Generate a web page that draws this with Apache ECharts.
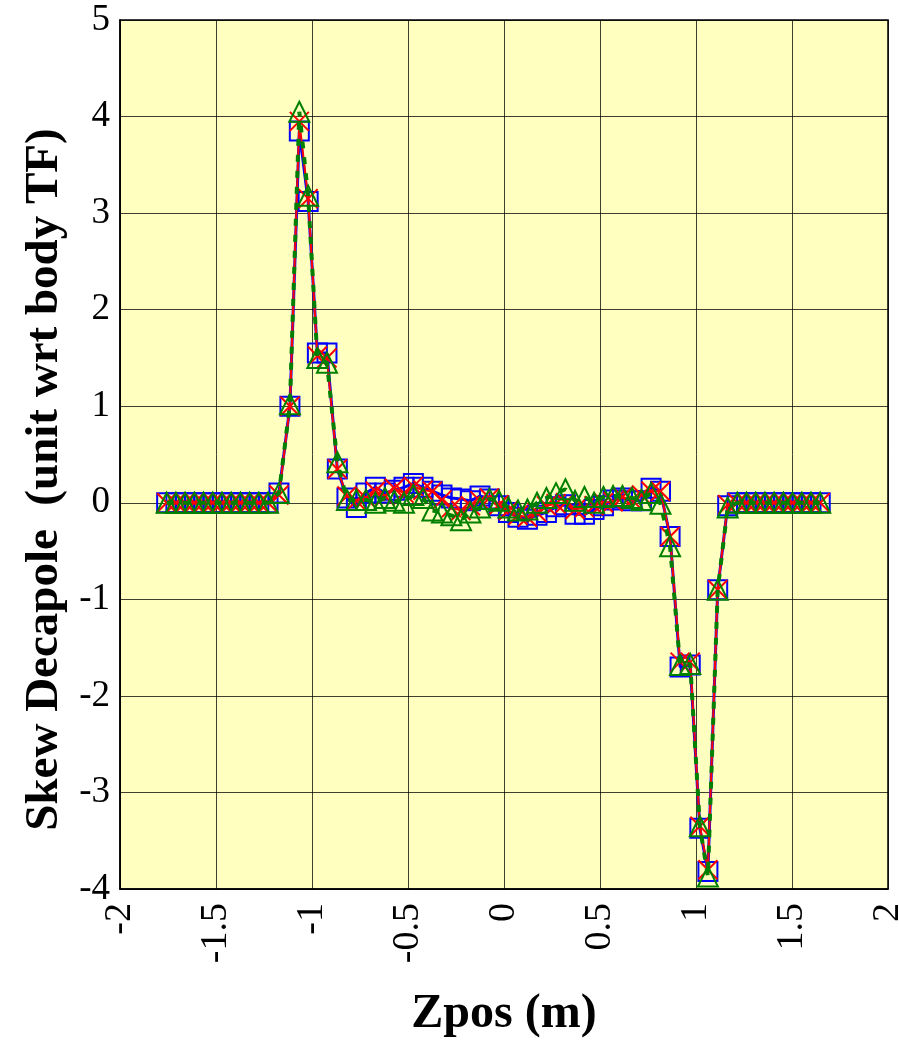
<!DOCTYPE html>
<html>
<head>
<meta charset="utf-8">
<script src="https://cdn.jsdelivr.net/npm/echarts@6/dist/echarts.min.js"></script>
<style>
  html, body { margin: 0; padding: 0; background: #ffffff; }
  #chart { width: 899px; height: 1051px; }
</style>
</head>
<body>
<div id="chart"></div>
<script>
// Longitudinal position along the magnet (m)
const zpos = [
  -1.757, -1.709, -1.661, -1.613, -1.565, -1.517, -1.469, -1.421, -1.373, -1.325, -1.277, -1.229,
  -1.172, -1.115, -1.066, -1.020, -0.972, -0.922, -0.868,
  -0.818, -0.769, -0.719, -0.670, -0.620, -0.571, -0.521, -0.472, -0.422, -0.373, -0.323, -0.274,
  -0.224, -0.175, -0.125, -0.076, -0.026, 0.023, 0.073, 0.122, 0.172, 0.221, 0.271, 0.320,
  0.370, 0.419, 0.469, 0.518, 0.568, 0.617, 0.667, 0.716, 0.766, 0.815,
  0.865, 0.917, 0.970, 1.020, 1.062, 1.113, 1.165,
  1.215, 1.263, 1.311, 1.359, 1.407, 1.455, 1.503, 1.551, 1.599, 1.647
];

// Skew decapole, three measurement sets (unit wrt body TF)
const skewSquare = [
  0, 0, 0, 0, 0, 0, 0, 0, 0, 0, 0, 0,
  0.10, 1.00, 3.85, 3.12, 1.55, 1.55, 0.35,
  0.05, -0.05, 0.10, 0.16, 0.10, 0.13, 0.16, 0.20, 0.16, 0.12, 0.08, 0.05,
  0.04, 0.02, 0.07, 0.04, -0.03, -0.10, -0.15, -0.17, -0.13, -0.10, -0.04, -0.02,
  -0.12, -0.12, -0.07, -0.03, 0.03, 0.05, 0.02, 0.02, 0.15, 0.12,
  -0.35, -1.70, -1.68, -3.37, -3.82, -0.90, -0.03,
  0, 0, 0, 0, 0, 0, 0, 0, 0, 0
];

const skewCross = [
  0, 0, 0, 0, 0, 0, 0, 0, 0, 0, 0, 0,
  0.08, 1.00, 3.95, 3.15, 1.52, 1.50, 0.35,
  0.07, 0.02, 0.05, 0.12, 0.07, 0.15, 0.10, 0.17, 0.13, 0.12, 0.03, -0.05,
  -0.08, -0.03, 0.02, 0.05, -0.02, -0.08, -0.13, -0.15, -0.10, -0.03, -0.01, 0.00,
  -0.07, -0.05, -0.03, 0.00, 0.01, 0.06, 0.03, 0.08, 0.12, 0.12,
  -0.35, -1.65, -1.65, -3.35, -3.80, -0.90, -0.02,
  0, 0, 0, 0, 0, 0, 0, 0, 0, 0
];

const skewTriangle = [
  0, 0, 0, 0, 0, 0, 0, 0, 0, 0, 0, 0,
  0.10, 1.02, 4.05, 3.18, 1.50, 1.45, 0.42,
  0.03, 0.03, 0.03, 0.00, 0.05, 0.02, 0.00, 0.08, 0.05, -0.08, -0.10, -0.13,
  -0.18, -0.10, -0.05, 0.04, 0.02, -0.05, -0.08, -0.07, 0.00, 0.05, 0.10, 0.14,
  0.02, 0.06, 0.00, 0.06, 0.07, 0.07, 0.05, 0.03, 0.10, -0.01,
  -0.45, -1.68, -1.67, -3.35, -3.87, -0.90, -0.05,
  0, 0, 0, 0, 0, 0, 0, 0, 0, 0
];

const xTicks = [-2, -1.5, -1, -0.5, 0, 0.5, 1, 1.5, 2];
const yTicks = [-4, -3, -2, -1, 0, 1, 2, 3, 4, 5];

function pairs(values) {
  return zpos.map((z, i) => [z, values[i]]);
}

const serif = '"Liberation Serif", "DejaVu Serif", serif';
const crossPath = 'path://M0,0L20,20M20,0L0,20';

const chart = echarts.init(document.getElementById('chart'), null, { renderer: 'canvas' });

chart.setOption({
  animation: false,
  backgroundColor: '#ffffff',
  grid: {
    left: 120, top: 20, right: 11, bottom: 162,
    outerBoundsMode: 'none',
    containLabel: false,
    show: true,
    backgroundColor: '#FFFFC0',
    borderColor: '#000000',
    borderWidth: 1.5
  },
  xAxis: {
    type: 'value',
    min: xTicks[0],
    max: xTicks[xTicks.length - 1],
    interval: 0.5,
    name: 'Zpos (m)',
    nameLocation: 'middle',
    nameGap: 102,
    nameTextStyle: { fontFamily: serif, fontWeight: 'bold', fontSize: 48, color: '#000' },
    axisLine: { show: true, onZero: false, lineStyle: { color: '#000', width: 1.5 } },
    axisTick: { show: false },
    splitLine: { show: true, lineStyle: { color: '#000', width: 1, opacity: 0.75 } },
    axisLabel: {
      rotate: 90,
      margin: 14,
      fontFamily: serif,
      fontSize: 38,
      color: '#000',
      formatter: (v) => String(v)
    }
  },
  yAxis: {
    type: 'value',
    min: yTicks[0],
    max: yTicks[yTicks.length - 1],
    interval: 1,
    name: 'Skew Decapole  (unit wrt body TF)',
    nameLocation: 'middle',
    nameGap: 46,
    nameTextStyle: {
      fontFamily: serif, fontWeight: 'bold', fontSize: 47, color: '#000',
      padding: [0, 50, 0, 0]
    },
    axisLine: { show: true, onZero: false, lineStyle: { color: '#000', width: 1.5 } },
    axisTick: { show: false },
    splitLine: { show: true, lineStyle: { color: '#000', width: 1, opacity: 0.75 } },
    axisLabel: {
      margin: 10,
      fontFamily: serif,
      fontSize: 37,
      color: '#000'
    }
  },
  series: [
    {
      name: 'square',
      type: 'line',
      data: pairs(skewSquare),
      symbol: 'rect',
      symbolSize: 19,
      lineStyle: { color: '#0000FF', width: 3 },
      itemStyle: { color: 'rgba(0,0,0,0)', borderColor: '#0000FF', borderWidth: 2 },
      z: 2
    },
    {
      name: 'cross',
      type: 'line',
      data: pairs(skewCross),
      symbol: crossPath,
      symbolSize: 19,
      lineStyle: { color: '#FF0000', width: 2 },
      itemStyle: { color: 'rgba(0,0,0,0)', borderColor: '#FF0000', borderWidth: 2 },
      z: 3
    },
    {
      name: 'triangle',
      type: 'line',
      data: pairs(skewTriangle),
      symbol: 'triangle',
      symbolSize: 20,
      lineStyle: { color: '#008000', width: 4, type: [7, 9] },
      itemStyle: { color: 'rgba(0,0,0,0)', borderColor: '#008000', borderWidth: 2 },
      z: 4
    }
  ]
});
</script>
</body>
</html>
